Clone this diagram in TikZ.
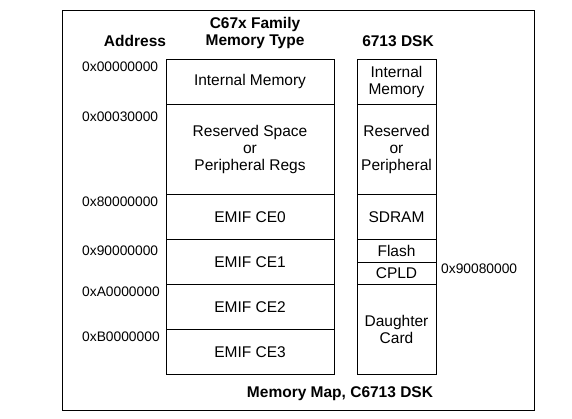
\documentclass[tikz,border=0pt]{standalone}
\usepackage{fontspec}
\setmainfont{Liberation Sans}
\usetikzlibrary{positioning}

\begin{document}
\begin{tikzpicture}[x=1pt,y=-1pt,
  memcell/.style={draw,line width=0.9pt,inner sep=0pt,outer sep=0pt,align=center,font=\fontsize{15.5}{17}\selectfont},
  famcell/.style={memcell,minimum width=168pt},
  dskcell/.style={memcell,minimum width=79pt},
  addr/.style={anchor=west,inner sep=0pt,font=\fontsize{13.8}{15}\selectfont},
  head/.style={inner sep=0pt,align=center,font=\bfseries\fontsize{15.5}{17}\selectfont}]
\path[use as bounding box] (0,0) rectangle (572,419);
\draw[line width=0.9pt] (62,10) rectangle (534,410);

% column titles
\node[head] (hAddr) at (135,41) {Address};
\node[head] (hFam) at (255,32.5) {C67x Family\\Memory Type};
\node[head] (hDsk) at (398,41) {6713 DSK};

% C67x family map
\node[famcell,minimum height=44.5pt,anchor=north west] (famInt) at (166,59.5) {Internal Memory};
\node[famcell,minimum height=90.5pt,below=0pt of famInt] (famResv) {Reserved Space\\or\\Peripheral Regs};
\node[famcell,minimum height=45pt,below=0pt of famResv] (famCEzero) {EMIF CE0};
\node[famcell,minimum height=45pt,below=0pt of famCEzero] (famCEone) {EMIF CE1};
\node[famcell,minimum height=45pt,below=0pt of famCEone] (famCEtwo) {EMIF CE2};
\node[famcell,minimum height=44.5pt,below=0pt of famCEtwo] (famCEthree) {EMIF CE3};

% 6713 DSK map
\node[dskcell,minimum height=44.5pt,anchor=north west] (dskInt) at (357,59.5) {Internal\\Memory};
\node[dskcell,minimum height=90.5pt,below=0pt of dskInt] (dskResv) {Reserved\\or\\Peripheral};
\node[dskcell,minimum height=45pt,below=0pt of dskResv] (dskSdram) {SDRAM};
\node[dskcell,minimum height=22.5pt,below=0pt of dskSdram] (dskFlash) {Flash};
\node[dskcell,minimum height=22.5pt,below=0pt of dskFlash] (dskCpld) {CPLD};
\node[dskcell,minimum height=89.5pt,below=0pt of dskCpld] (dskCard) {Daughter\\Card};

% addresses
\node[addr] (aInt) at (82,67) {0x00000000};
\node[addr] (aResv) at (82,117) {0x00030000};
\node[addr] (aCEzero) at (82,202) {0x80000000};
\node[addr] (aCEone) at (82,251) {0x90000000};
\node[addr] (aCEtwo) at (82,292) {0xA0000000};
\node[addr] (aCEthree) at (82,337) {0xB0000000};
\node[addr] (aCpld) at (441,269) {0x90080000};

\node[head] (caption) at (340,394) {Memory Map, C6713 DSK};
\end{tikzpicture}
\end{document}
